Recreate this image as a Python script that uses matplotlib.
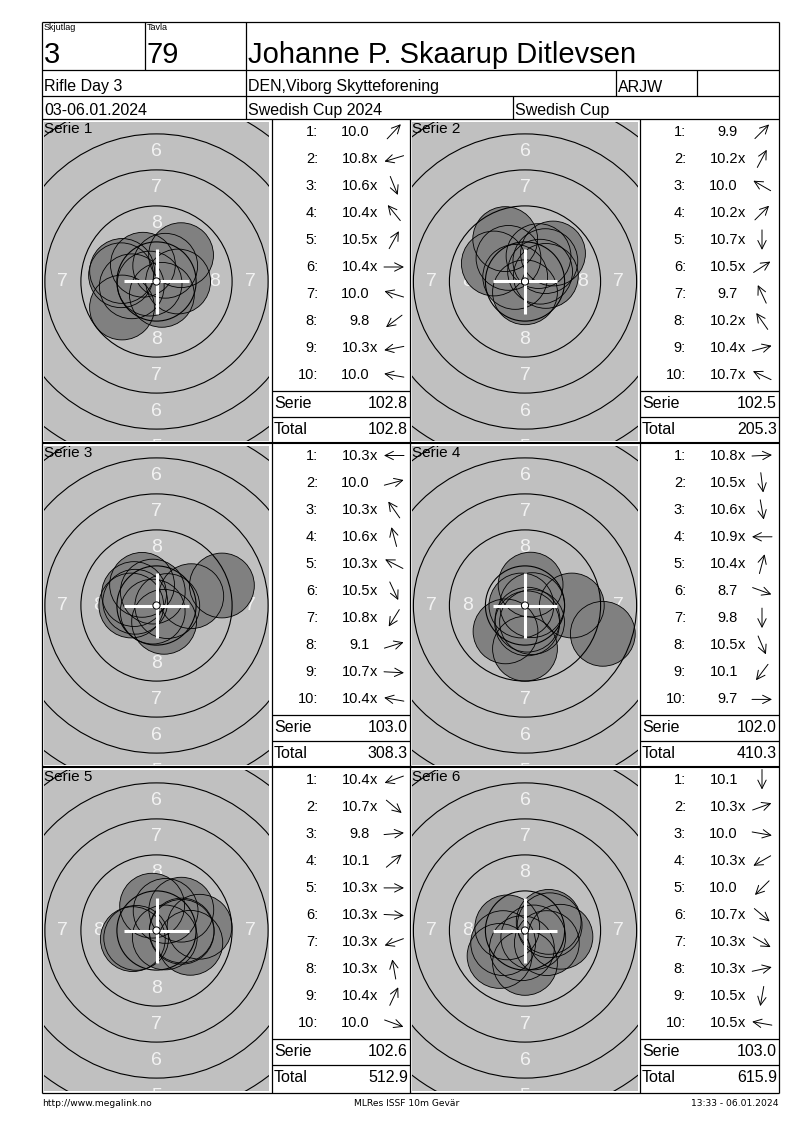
import matplotlib
matplotlib.use('Agg')
import matplotlib.pyplot as plt
from matplotlib.patches import Circle, FancyArrowPatch
import numpy as np

plt.rcParams['font.family'] = ['Liberation Sans', 'DejaVu Sans']

# ---------------- data ----------------
skjutlag_label = "Skjutlag"
tavla_label = "Tavla"
skjutlag = "3"
tavla = "79"
shooter = "Johanne P. Skaarup Ditlevsen"
klass = "Rifle Day 3"
club = "DEN,Viborg Skytteforening"
category = "ARJW"
dates = "03-06.01.2024"
event = "Swedish Cup 2024"
cup = "Swedish Cup"
footer_left = "http://www.megalink.no"
footer_mid = "MLRes ISSF 10m Gevär"
footer_right = "13:33 - 06.01.2024"

series_names = ["Serie 1", "Serie 2", "Serie 3", "Serie 4", "Serie 5", "Serie 6"]

s1_scores = ["10.0", "10.8x", "10.6x", "10.4x", "10.5x", "10.4x", "10.0", "9.8", "10.3x", "10.0"]
s1_dirs = [47, 197, -68, 129, 61, 0, 163, 217, 191, 170]
s2_scores = ["9.9", "10.2x", "10.0", "10.2x", "10.7x", "10.5x", "9.7", "10.2x", "10.4x", "10.7x"]
s2_dirs = [45, 62, 150, 45, -90, 33, 115, 125, 15, 155]
s3_scores = ["10.3x", "10.0", "10.3x", "10.6x", "10.3x", "10.5x", "10.8x", "9.1", "10.7x", "10.4x"]
s3_dirs = [180, 15, 125, 105, 153, -65, 238, 17, -3, 170]
s4_scores = ["10.8x", "10.5x", "10.6x", "10.9x", "10.4x", "8.7", "9.8", "10.5x", "10.1", "9.7"]
s4_dirs = [3, -83, -80, 180, 75, -20, -90, -67, 233, 0]
s5_scores = ["10.4x", "10.7x", "9.8", "10.1", "10.3x", "10.3x", "10.3x", "10.3x", "10.4x", "10.0"]
s5_dirs = [200, -40, 5, 40, 0, -3, 200, 100, 65, -20]
s6_scores = ["10.1", "10.3x", "10.0", "10.3x", "10.0", "10.7x", "10.3x", "10.3x", "10.5x", "10.5x"]
s6_dirs = [-90, 20, -10, 210, 225, -40, -30, 12, 260, 170]

all_scores = [s1_scores, s2_scores, s3_scores, s4_scores, s5_scores, s6_scores]
all_dirs = [s1_dirs, s2_dirs, s3_dirs, s4_dirs, s5_dirs, s6_dirs]
serie_sums = ["102.8", "102.5", "103.0", "102.0", "102.6", "103.0"]
running_totals = ["102.8", "205.3", "308.3", "410.3", "512.9", "615.9"]

ring_radii_mm = [2.75, 5.25, 7.75, 10.25, 12.75, 15.25]   # rings 9..4
ring_labels = ["8", "7", "6", "5", "4"]
shot_radius_mm = 2.25
ten_radius_mm = 0.25

# ---------------- layout ----------------
W, H = 800, 1130
PX = 14.4  # pixels per mm on the target drawing
fig = plt.figure(figsize=(W / 100, H / 100), dpi=100)
fig.patch.set_facecolor('white')
bg = fig.add_axes([0, 0, 1, 1])
bg.set_xlim(0, W)
bg.set_ylim(H, 0)
bg.axis('off')

LW = 0.9
L, R = 42, 779
TOP, BOT = 22, 1093


def hline(y, x1, x2, lw=LW):
    bg.plot([x1, x2], [y, y], color='black', lw=lw, solid_capstyle='butt')


def vline(x, y1, y2, lw=LW):
    bg.plot([x, x], [y1, y2], color='black', lw=lw, solid_capstyle='butt')


# outer box + header grid
hline(TOP, L, R)
hline(BOT, L, R)
vline(L, TOP, BOT)
vline(R, TOP, BOT)
hline(70, L, R)
hline(95.5, L, R)
hline(119, L, R)
vline(145, TOP, 70)
vline(246, TOP, 119)
vline(616, 70, 95.5)
vline(697, 70, 95.5)
vline(513, 95.5, 119)

bg.text(44, 28, skjutlag_label, fontsize=6.5, ha='left', va='center')
bg.text(147, 28, tavla_label, fontsize=6.5, ha='left', va='center')
bg.text(44, 63, skjutlag, fontsize=21, ha='left', va='baseline')
bg.text(147, 63, tavla, fontsize=21, ha='left', va='baseline')
bg.text(248, 63, shooter, fontsize=21, ha='left', va='baseline')
bg.text(44, 91.5, klass, fontsize=11.5, ha='left', va='baseline')
bg.text(248, 91.5, club, fontsize=11.5, ha='left', va='baseline')
bg.text(618, 91.5, category, fontsize=11.5, ha='left', va='baseline')
bg.text(44, 115, dates, fontsize=11.5, ha='left', va='baseline')
bg.text(248, 115, event, fontsize=11.5, ha='left', va='baseline')
bg.text(515, 115, cup, fontsize=11.5, ha='left', va='baseline')

foot_font = ['Liberation Sans Narrow', 'DejaVu Sans']
bg.text(42, 1104, footer_left, fontsize=6.6, ha='left', va='center', family=foot_font)
bg.text(407, 1104, footer_mid, fontsize=6.6, ha='center', va='center', family=foot_font)
bg.text(779, 1104, footer_right, fontsize=6.6, ha='right', va='center', family=foot_font)

block_tops = [119, 443, 767]
block_bottoms = [443, 767, 1093]
for y in block_tops[1:]:
    hline(y, L, R, lw=1.5)
for yt, yb in zip(block_tops, block_bottoms):
    vline(272, yt, yb)
    vline(410, yt, yb)
    vline(640, yt, yb)

# target panels (x0, x1) and score columns (x0, x1)
panel_x = [(44, 269), (412, 638)]
score_x = [(272, 410), (640, 779)]


def draw_target(px0, px1, py0, py1, scores, dirs, title):
    w, h = px1 - px0, py1 - py0
    ax = fig.add_axes([px0 / W, 1 - py1 / H, w / W, h / H])
    hw, hh = w / 2 / PX, h / 2 / PX
    ax.set_xlim(-hw, hw)
    ax.set_ylim(-hh, hh)
    ax.set_facecolor('#c0c0c0')
    ax.set_xticks([])
    ax.set_yticks([])
    for s in ax.spines.values():
        s.set_visible(False)
    # ring numbers, between ring lines (only those reaching into the panel)
    mids = [(a + b) / 2 for a, b in zip(ring_radii_mm[:-1], ring_radii_mm[1:])]
    for lab, m in zip(ring_labels, mids):
        for ux, uy in [(0, 1), (0, -1), (-1, 0), (1, 0)]:
            lim = hw if ux else hh
            if m > lim + 0.5 or (uy == 1 and m > lim):
                continue
            ax.text(ux * m, uy * m, lab, fontsize=14, color='#f2f2f2',
                    ha='center', va='center', clip_on=True, zorder=1)
    # shots
    pts = []
    for s, a in zip(scores, dirs):
        v = float(s.rstrip('x'))
        d = (11.0 - v) * 2.5
        pts.append((d * np.cos(np.radians(a)), d * np.sin(np.radians(a))))
    for x, y in pts:
        ax.add_patch(Circle((x, y), shot_radius_mm, facecolor='#808080',
                            edgecolor='none', zorder=2))
    for x, y in pts:
        ax.add_patch(Circle((x, y), shot_radius_mm, fill=False,
                            edgecolor='black', lw=0.6, zorder=3))
    # ring lines
    for r in ring_radii_mm:
        ax.add_patch(Circle((0, 0), r, fill=False, edgecolor='black', lw=0.8, zorder=4))
    # crosshair
    ax.plot([-shot_radius_mm, shot_radius_mm], [0, 0], color='white', lw=2.2,
            solid_capstyle='butt', zorder=5)
    ax.plot([0, 0], [-shot_radius_mm, shot_radius_mm], color='white', lw=2.2,
            solid_capstyle='butt', zorder=5)
    ax.add_patch(Circle((0, 0), ten_radius_mm, facecolor='white', edgecolor='black',
                        lw=0.7, zorder=6))
    ax.text(0.0, 1.0, title, transform=ax.transAxes, fontsize=11, ha='left',
            va='top', zorder=7)


def draw_scores(cx0, cx1, y0, scores, dirs, serie, total):
    for i, (s, a) in enumerate(zip(scores, dirs)):
        y = y0 + 12.5 + i * 27.1
        bg.text(cx0 + 46, y, f"{i + 1}:", fontsize=10.5, ha='right', va='center')
        val = s.rstrip('x')
        bg.text(cx0 + 98, y, val, fontsize=10.5, ha='right', va='center')
        if s.endswith('x'):
            bg.text(cx0 + 98, y, "x", fontsize=10.5, ha='left', va='center')
        cx, cy = cx0 + 122, y
        dx, dy = 10 * np.cos(np.radians(a)), -10 * np.sin(np.radians(a))
        arr = FancyArrowPatch((cx - dx, cy - dy), (cx + dx, cy + dy),
                              arrowstyle='->,head_length=0.5,head_width=0.25',
                              mutation_scale=12, lw=0.7, color='black',
                              shrinkA=0, shrinkB=0)
        bg.add_patch(arr)
    hline(y0 + 272, cx0, cx1)
    hline(y0 + 298, cx0, cx1)
    bg.text(cx0 + 2, y0 + 285, "Serie", fontsize=11.5, ha='left', va='center')
    bg.text(cx1 - 2, y0 + 285, serie, fontsize=11.5, ha='right', va='center')
    bg.text(cx0 + 2, y0 + 311, "Total", fontsize=11.5, ha='left', va='center')
    bg.text(cx1 - 2, y0 + 311, total, fontsize=11.5, ha='right', va='center')


for k in range(6):
    row, col = divmod(k, 2)
    yt, yb = block_tops[row], block_bottoms[row]
    px0, px1 = panel_x[col]
    draw_target(px0, px1, yt + 3, yb - 2, all_scores[k], all_dirs[k], series_names[k])
    cx0, cx1 = score_x[col]
    draw_scores(cx0, cx1, yt, all_scores[k], all_dirs[k], serie_sums[k], running_totals[k])

fig.savefig('out.png', dpi=100, facecolor='white')
